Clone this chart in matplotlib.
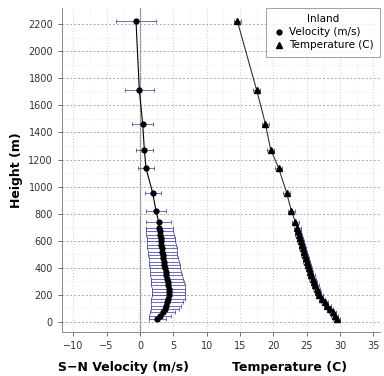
import matplotlib
matplotlib.use("Agg")
import matplotlib.pyplot as plt
import numpy as np

# Velocity profile (m/s) vs height (m)
vel_height = [20, 45, 70, 95, 120, 145, 170, 195, 220, 245, 270, 295, 320, 345, 370, 395,
              420, 445, 470, 495, 520, 545, 570, 595, 620, 645, 670, 695, 740, 820, 954, 1136,
              1274, 1466, 1712, 2224]
velocity = [2.6, 3.0, 3.4, 3.7, 3.9, 4.1, 4.2, 4.3, 4.3, 4.3, 4.2, 4.15, 4.05, 3.95, 3.85, 3.75,
            3.65, 3.55, 3.5, 3.4, 3.35, 3.3, 3.2, 3.15, 3.1, 3.0, 2.95, 2.9, 2.8, 2.4, 1.9, 0.9,
            0.65, 0.4, -0.1, -0.6]
vel_err = [1.3, 1.6, 1.9, 2.1, 2.3, 2.4, 2.5, 2.5, 2.5, 2.5, 2.5, 2.45, 2.4, 2.4, 2.35, 2.3,
           2.3, 2.25, 2.2, 2.2, 2.2, 2.2, 2.15, 2.15, 2.1, 2.1, 2.0, 2.0, 1.9, 1.55, 1.2, 1.25,
           1.3, 1.6, 2.2, 3.0]

# Temperature profile (C)
temperature = [29.5, 29.2, 28.9, 28.5, 28.1, 27.7, 27.3, 26.9, 26.7, 26.5, 26.3, 26.1, 25.9, 25.7, 25.5, 25.35,
               25.2, 25.0, 24.9, 24.7, 24.6, 24.4, 24.3, 24.1, 24.0, 23.8, 23.7, 23.6, 23.3, 22.7, 22.0, 20.8,
               19.6, 18.8, 17.5, 14.6]
temp_err = [0.5] * 36

xticks = [-10, -5, 0, 5, 10, 15, 20, 25, 30, 35]
yticks = list(range(0, 2201, 200))

fig = plt.figure(figsize=(3.84, 3.76), dpi=100)
ax = fig.add_axes([62/384, 44/376, 318/384, 324/376])

ax.set_xlim(-11.7, 36)
ax.set_ylim(-75, 2320)

ax.axvline(0, color='#888888', lw=0.9, zorder=1)

eb_col = '#2a2a9a'
ax.errorbar(velocity, vel_height, xerr=vel_err, fmt='none', ecolor=eb_col, elinewidth=0.6,
            capsize=1.5, capthick=0.6, alpha=0.8, zorder=2)
ax.plot(velocity, vel_height, color='black', lw=0.8, zorder=3)
ax.plot(velocity, vel_height, 'o', color='black', ms=3.5, zorder=4, label='Velocity (m/s)')

ax.errorbar(temperature, vel_height, xerr=temp_err, fmt='none', ecolor=eb_col, elinewidth=0.6,
            capsize=1.5, capthick=0.6, alpha=0.8, zorder=2)
ax.plot(temperature, vel_height, color='#333333', lw=0.8, zorder=3)
ax.plot(temperature, vel_height, '^', color='black', ms=3.8, zorder=4, label='Temperature (C)')

ax.set_xticks(xticks)
ax.set_yticks(yticks)
ax.tick_params(labelsize=7, colors='#555555', length=3, width=0.6, direction='out')
for lab in ax.get_xticklabels() + ax.get_yticklabels():
    lab.set_color('#333333')

ax.grid(axis='y', color='#aaaaaa', ls=(0, (2, 2)), lw=0.7)
ax.grid(axis='x', color='#cccccc', ls=(0, (1, 2)), lw=0.7)
ax.set_xticks(np.arange(-10, 36, 2.5), minor=True)
ax.set_yticks(np.arange(100, 2300, 200), minor=True)
ax.grid(which='minor', color='#e2e2e2', ls=(0, (1, 2)), lw=0.5)
ax.tick_params(which='minor', length=0)

for s in ax.spines.values():
    s.set_color('#888888')
    s.set_linewidth(0.7)
ax.spines['top'].set_visible(False)
ax.spines['right'].set_visible(False)

leg = ax.legend(title='Inland', loc='upper right', fontsize=7.5, title_fontsize=7.5,
                frameon=True, fancybox=False, borderpad=0.6, handletextpad=0.4,
                handlelength=1.2, labelspacing=0.3, borderaxespad=0.0)
leg.get_frame().set_edgecolor('#888888')
leg.get_frame().set_linewidth(0.7)

ax.set_ylabel('Height (m)', fontsize=9, fontweight='bold')
fig.text(124/384, 1 - 367/376, 'S\u2212N Velocity (m/s)', ha='center', va='center',
         fontsize=9, fontweight='bold')
fig.text(290/384, 1 - 367/376, 'Temperature (C)', ha='center', va='center',
         fontsize=9, fontweight='bold')

fig.savefig('out.png', dpi=100)
